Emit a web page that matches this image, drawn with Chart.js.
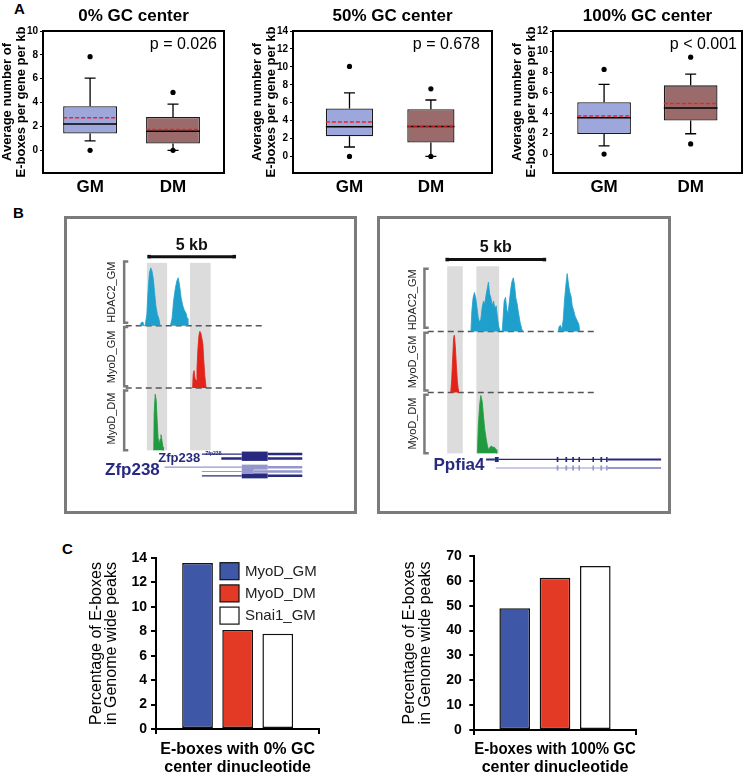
<!DOCTYPE html>
<html>
<head>
<meta charset="utf-8">
<script src="https://cdn.jsdelivr.net/npm/chart.js@4.4.1/dist/chart.umd.min.js"></script>
<style>
  body { margin: 0; background: #fff; overflow: hidden; }
  #fig { position: relative; width: 746px; height: 775px; font-family: "Liberation Sans", Arial, Helvetica, sans-serif; }
  #fig canvas { position: absolute; }
  .letter { position: absolute; font-weight: bold; font-size: 15px; line-height: 17px; }
  .frame { position: absolute; border: 3px solid #7b7b7b; box-sizing: border-box; }
</style>
</head>
<body>
<div id="fig">
  <div class="letter" style="left:14px;top:0px">A</div>
  <div class="letter" style="left:13px;top:204px">B</div>
  <div class="letter" style="left:62px;top:540px">C</div>

  <canvas id="box0" width="250" height="200" style="left:0;top:0"></canvas>
  <canvas id="box50" width="250" height="200" style="left:250px;top:0"></canvas>
  <canvas id="box100" width="246" height="200" style="left:500px;top:0"></canvas>

  <div class="frame" style="left:64px;top:216px;width:293px;height:298px"></div>
  <div class="frame" style="left:377px;top:216px;width:294px;height:298px"></div>
  <canvas id="trkZfp" width="287" height="292" style="left:67px;top:219px"></canvas>
  <canvas id="trkPpf" width="288" height="292" style="left:380px;top:219px"></canvas>

  <canvas id="pct0" width="290" height="240" style="left:60px;top:540px"></canvas>
  <canvas id="pct100" width="300" height="240" style="left:370px;top:540px"></canvas>
</div>

<script>
// ---------- A: box plots (E-boxes per gene per kb) ----------
const groups = ['GM', 'DM'];

const gc0Box = [[1.4, 3.7], [0.57, 2.8]];
const gc0Whisker = [[0.8, 6.05], [0, 3.87]];
const gc0Median = [2.2, 1.6];
const gc0Mean = [2.74, 1.75];
const gc0Outliers = [[0, 7.85], [0, 4.85]];

const gc50Box = [[2.25, 5.35], [1.55, 5.27]];
const gc50Whisker = [[1.05, 7.1], [0, 6.3]];
const gc50Median = [3.3, 3.35];
const gc50Mean = [3.85, 3.4];
const gc50Outliers = [[0, 10.05], [0, 7.55]];

const gc100Box = [[1.95, 5.05], [3.27, 6.7]];
const gc100Whisker = [[0.8, 6.8], [1.98, 7.8]];
const gc100Median = [3.55, 4.5];
const gc100Mean = [3.72, 4.93];
const gc100Outliers = [[0, 8.25], [0.99, 9.45]];

// ---------- B: ChIP-seq tracks, points are [kb, height as fraction of track] ----------
const trackNames = ['HDAC2_GM', 'MyoD_GM', 'MyoD_DM'];

const zfpHdac2 = [
  [[-0.55,0],[-0.46,0.05],[-0.36,0.06],[-0.30,0],[-0.23,0],[-0.13,0.18],[-0.06,0.55],[0.02,0.85],[0.10,0.93],
   [0.17,0.88],[0.25,0.75],[0.32,0.55],[0.40,0.32],[0.49,0.18],[0.59,0.10],[0.65,0]],
  [[1.25,0],[1.35,0.12],[1.44,0.4],[1.54,0.6],[1.63,0.72],[1.71,0.77],[1.79,0.65],[1.88,0.45],[1.98,0.32],
   [2.07,0.25],[2.17,0.2],[2.24,0.12],[2.28,0]]
];
const zfpMyoGM = [
  [[2.55,0],[2.59,0.22],[2.64,0.28],[2.70,0.15],[2.76,0.12],[2.81,0.3],[2.87,0.65],[2.93,0.85],[2.98,0.91],
   [3.04,0.88],[3.10,0.8],[3.16,0.7],[3.21,0.45],[3.27,0.2],[3.33,0.05],[3.35,0]]
];
const zfpMyoDM = [
  [[0.27,0],[0.30,0.6],[0.36,0.9],[0.42,0.8],[0.48,0.45],[0.53,0.2],[0.59,0.1],[0.65,0.18],[0.70,0.25],
   [0.76,0.15],[0.82,0.05],[0.84,0]]
];
const zfpBands = [[-0.13, 1.06], [2.40, 3.61]];

const ppfHdac2 = [
  [[1.22,0],[1.27,0.35],[1.33,0.55],[1.40,0.64],[1.47,0.55],[1.53,0.4],[1.60,0.22],[1.67,0.15],[1.73,0.2],
   [1.80,0.4],[1.87,0.5],[1.93,0.45],[2.00,0.6],[2.07,0.72],[2.12,0.81],[2.18,0.62],[2.25,0.55],[2.32,0.42],
   [2.38,0.5],[2.45,0.38],[2.52,0.42],[2.58,0.25],[2.65,0.08],[2.72,0]],
  [[2.83,0],[2.88,0.25],[2.93,0.5],[3.00,0.56],[3.07,0.35],[3.13,0.3],[3.20,0.5],[3.27,0.7],[3.33,0.82],
   [3.40,0.88],[3.47,0.75],[3.53,0.55],[3.60,0.45],[3.67,0.3],[3.75,0.15],[3.83,0.05],[3.88,0]],
  [[5.72,0],[5.75,0.08],[5.83,0.1],[5.90,0.03],[5.97,0.2],[6.03,0.5],[6.10,0.75],[6.17,0.95],[6.23,0.8],
   [6.30,0.65],[6.37,0.58],[6.43,0.42],[6.50,0.35],[6.58,0.25],[6.68,0.18],[6.77,0.12],[6.82,0]]
];
const ppfMyoGM = [
  [[0.18,0],[0.23,0.2],[0.28,0.55],[0.33,0.9],[0.37,0.94],[0.42,0.75],[0.47,0.45],[0.52,0.2],[0.57,0.05],[0.58,0]]
];
const ppfMyoDM = [
  [[1.55,0],[1.60,0.45],[1.67,0.8],[1.73,0.95],[1.80,0.85],[1.87,0.6],[1.93,0.4],[2.00,0.25],[2.07,0.12],
   [2.13,0.06],[2.20,0.1],[2.27,0.12],[2.35,0.1],[2.43,0.1],[2.52,0.06],[2.55,0]]
];
const ppfBands = [[0, 0.8], [1.5, 2.67]];

// gene models (kb): intron line, coding exons, UTR blocks
const zfpGenes = [
  { lane: 0, tone: 'dark', intron: [3.10, 5.44], exons: [[5.44, 6.96]], utr: [[6.96, 8.99]] },
  { lane: 1, tone: 'dark', intron: null, exons: [[5.44, 6.96]], utr: [[4.24, 5.44], [6.96, 8.99]] },
  { lane: 2, tone: 'light', intron: [0.91, 5.44], exons: [[5.44, 6.96]], utr: [[6.96, 8.99]] },
  { lane: 3, tone: 'light', intron: [3.10, 5.44], exons: [[5.44, 6.14]], utr: [[6.14, 8.99]] },
  { lane: 4, tone: 'dark', intron: [3.10, 5.44], exons: [[5.44, 6.96]], utr: [[6.96, 8.99]] }
];
const ppfExons = [[5.63, 5.72], [6.08, 6.17], [6.43, 6.52], [6.75, 6.83], [7.47, 7.55], [7.88, 7.97], [8.17, 8.25]];
const ppfGenes = [
  { lane: 0, tone: 'dark', intron: [2.65, 8.25], exons: [[2.45, 2.65]].concat(ppfExons), utr: [[2.0, 2.45], [8.25, 11.0]] },
  { lane: 1, tone: 'light', intron: [2.5, 8.25], exons: ppfExons, utr: [[8.25, 11.0]] }
];

// ---------- C: % of E-boxes in genome wide peaks ----------
const cSeries = ['MyoD_GM', 'MyoD_DM', 'Snai1_GM'];
const gc0Pct = [13.6, 8.1, 7.8];
const gc100Pct = [49, 61.3, 66];

// ---------- styles ----------
const FONT = '"Liberation Sans", Arial, Helvetica, sans-serif';
const boxFill = ['#9ea7db', '#9b6b6b'];
const peakColors = ['#1fa0cc', '#e2231a', '#1f9a3e'];
const cColors = ['#3f57a7', '#e33a25', '#ffffff'];
const NAVY = '#272a7f';
const NAVY_LIGHT = '#9496cc';

Chart.defaults.font.family = FONT;
Chart.defaults.color = '#000';
Chart.defaults.animation = false;

// whiskers, median, mean, frame, title and p value for the box plots
const boxExtras = {
  id: 'boxExtras',
  afterDatasetsDraw(chart, args, o) {
    const ctx = chart.ctx, ys = chart.scales.y, area = chart.chartArea;
    const bars = chart.getDatasetMeta(0).data;
    const boxes = chart.data.datasets[0].data;
    ctx.save();
    bars.forEach((bar, i) => {
      const x = bar.x, hw = bar.width / 2, cap = 5.5;
      const lo = ys.getPixelForValue(o.whisker[i][0]);
      const hi = ys.getPixelForValue(o.whisker[i][1]);
      const q1 = ys.getPixelForValue(boxes[i].y[0]);
      const q3 = ys.getPixelForValue(boxes[i].y[1]);
      ctx.strokeStyle = '#000';
      ctx.lineWidth = 1.3;
      ctx.beginPath();
      ctx.moveTo(x, q3); ctx.lineTo(x, hi);
      ctx.moveTo(x - cap, hi); ctx.lineTo(x + cap, hi);
      ctx.moveTo(x, q1); ctx.lineTo(x, lo);
      ctx.moveTo(x - cap, lo); ctx.lineTo(x + cap, lo);
      ctx.stroke();
      const md = ys.getPixelForValue(o.median[i]);
      ctx.lineWidth = 1.5;
      ctx.beginPath(); ctx.moveTo(x - hw, md); ctx.lineTo(x + hw, md); ctx.stroke();
      const mn = ys.getPixelForValue(o.mean[i]);
      ctx.strokeStyle = '#f0202a';
      ctx.setLineDash([4, 2]);
      ctx.beginPath(); ctx.moveTo(x - hw, mn); ctx.lineTo(x + hw, mn); ctx.stroke();
      ctx.setLineDash([]);
    });
    ctx.strokeStyle = '#000';
    ctx.lineWidth = 2;
    ctx.strokeRect(area.left, area.top, area.right - area.left, area.bottom - area.top);
    ctx.fillStyle = '#000';
    ctx.font = 'bold 17px ' + FONT;
    ctx.textAlign = 'center';
    ctx.textBaseline = 'middle';
    ctx.fillText(o.title, (area.left + area.right) / 2, 16);
    ctx.font = '16px ' + FONT;
    ctx.textAlign = 'right';
    ctx.fillText(o.p, area.right - o.pGap, 44.5);
    ctx.restore();
  }
};

function boxChart(id, o) {
  const outPts = [];
  o.outliers.forEach((arr, i) => arr.forEach(v => outPts.push({ x: i, y: v })));
  return new Chart(document.getElementById(id), {
    type: 'bar',
    data: {
      datasets: [
        {
          data: o.box.map((b, i) => ({ x: i, y: b })),
          backgroundColor: boxFill,
          borderColor: '#1a1a1a',
          borderWidth: 1.3,
          borderSkipped: false,
          categoryPercentage: 1,
          barPercentage: o.barPct,
          order: 2
        },
        { type: 'scatter', data: outPts, pointRadius: 2.6, backgroundColor: '#000', borderWidth: 0, order: 1 }
      ]
    },
    options: {
      responsive: false,
      layout: { padding: { top: 31, right: o.padRight, left: 0, bottom: 0 } },
      plugins: {
        legend: { display: false },
        tooltip: { enabled: false },
        boxExtras: { whisker: o.whisker, median: o.median, mean: o.mean, title: o.title, p: o.p, pGap: o.pGap }
      },
      scales: {
        x: {
          type: 'linear', min: o.xRange[0], max: o.xRange[1], offset: false,
          grid: { display: false, drawTicks: false, offset: false },
          border: { display: false },
          ticks: { autoSkip: false, padding: 4, font: { size: 17, weight: 'bold' }, callback: v => groups[Math.round(v)] },
          afterBuildTicks: s => { s.ticks = groups.map((g, i) => ({ value: i })); },
          afterFit: s => { s.height = 27; }
        },
        y: {
          min: o.yRange[0], max: o.yRange[1],
          grid: { drawOnChartArea: false, tickLength: 3, color: '#000' },
          border: { display: false },
          ticks: { stepSize: 2, padding: 2, font: { size: 10, weight: 'bold' } },
          afterBuildTicks: s => { s.ticks = s.ticks.filter(t => t.value >= 0 && Math.abs(t.value % 2) < 1e-9); },
          title: {
            display: true,
            text: ['Average number of', 'E-boxes per gene per kb'],
            font: { size: 13, weight: 'bold', lineHeight: 1.05 },
            padding: { top: o.titlePad, bottom: 0 }
          },
          afterFit: s => { s.width = o.axisW; }
        }
      }
    },
    plugins: [boxExtras]
  });
}

boxChart('box0', {
  box: gc0Box, whisker: gc0Whisker, median: gc0Median, mean: gc0Mean, outliers: gc0Outliers,
  title: '0% GC center', p: 'p = 0.026', pGap: 7,
  yRange: [-1.9, 10], xRange: [-0.568, 1.615], barPct: 0.65, axisW: 43, padRight: 26, titlePad: 1
});
boxChart('box50', {
  box: gc50Box, whisker: gc50Whisker, median: gc50Median, mean: gc50Mean, outliers: gc50Outliers,
  title: '50% GC center', p: 'p = 0.678', pGap: 12,
  yRange: [-1.85, 14], xRange: [-0.694, 1.751], barPct: 0.58, axisW: 43, padRight: 8, titlePad: 1
});
boxChart('box100', {
  box: gc100Box, whisker: gc100Whisker, median: gc100Median, mean: gc100Mean, outliers: gc100Outliers,
  title: '100% GC center', p: 'p < 0.001', pGap: 5,
  yRange: [-1.85, 12], xRange: [-0.59, 1.593], barPct: 0.62, axisW: 53, padRight: 2, titlePad: 11
});

// ---------- B ----------
const trackBase = [2, 1, 0];

const trackDecor = {
  id: 'trackDecor',
  beforeDatasetsDraw(chart, args, o) {
    const { ctx, scales: { x, y } } = chart;
    ctx.save();
    ctx.fillStyle = '#dcdcdc';
    o.bands.forEach(b => {
      const x0 = x.getPixelForValue(b[0]), x1 = x.getPixelForValue(b[1]);
      const y0 = y.getPixelForValue(o.bandY[1]), y1 = y.getPixelForValue(o.bandY[0]);
      ctx.fillRect(x0, y0, x1 - x0, y1 - y0);
    });
    ctx.restore();
  },
  afterDatasetsDraw(chart, args, o) {
    const { ctx, scales: { x, y } } = chart;
    ctx.save();
    // brackets
    ctx.strokeStyle = '#7a7a7a';
    ctx.lineWidth = 2.5;
    const bx = x.getPixelForValue(o.bracketX), bt = x.getPixelForValue(o.bracketX + o.bracketTick);
    o.brackets.forEach(r => {
      const yl = y.getPixelForValue(r[0]), yh = y.getPixelForValue(r[1]);
      ctx.beginPath();
      ctx.moveTo(bt, yh); ctx.lineTo(bx, yh); ctx.lineTo(bx, yl); ctx.lineTo(bt, yl);
      ctx.stroke();
    });
    // track names
    ctx.fillStyle = '#222';
    ctx.font = '11px ' + FONT;
    ctx.textAlign = 'center';
    ctx.textBaseline = 'middle';
    trackNames.forEach((n, i) => {
      ctx.save();
      ctx.translate(x.getPixelForValue(o.labelX), y.getPixelForValue(o.labelY[i]));
      ctx.rotate(-Math.PI / 2);
      ctx.fillText(n, 0, 0);
      ctx.restore();
    });
    // scale bar text
    ctx.fillStyle = '#111';
    ctx.font = 'bold 16px ' + FONT;
    ctx.fillText('5 kb', x.getPixelForValue((o.scaleBar[0] + o.scaleBar[1]) / 2), y.getPixelForValue(o.scaleTextY));
    // gene names
    ctx.fillStyle = NAVY;
    o.geneText.forEach(g => {
      ctx.font = 'bold ' + g.size + 'px ' + FONT;
      ctx.textAlign = g.align || 'right';
      ctx.fillText(g.t, x.getPixelForValue(g.x), y.getPixelForValue(g.y));
    });
    ctx.restore();
  }
};

function spanLine(spans, y) {
  const pts = [];
  spans.forEach(s => { pts.push({ x: s[0], y: y }, { x: s[1], y: y }, { x: s[1], y: null }); });
  return pts;
}

function trackChart(id, cfg) {
  const ds = [];
  cfg.tracks.forEach((clusters, i) => {
    clusters.forEach(pk => ds.push({
      data: pk.map(p => ({ x: p[0], y: trackBase[i] + p[1] })),
      borderColor: peakColors[i],
      backgroundColor: peakColors[i],
      borderWidth: 0.8,
      fill: { value: trackBase[i] }
    }));
  });
  [2, 1].forEach(b => ds.push({
    data: [{ x: cfg.dash[0], y: b }, { x: cfg.dash[1], y: b }],
    borderColor: '#555', borderWidth: 1.5, borderDash: [6, 4]
  }));
  ds.push({
    data: [{ x: cfg.scaleBar[0], y: cfg.barY }, { x: cfg.scaleBar[1], y: cfg.barY }],
    borderColor: '#111', borderWidth: 3,
    pointRadius: 2.5, pointStyle: 'rect', pointBackgroundColor: '#111', pointBorderWidth: 0
  });
  cfg.genes.forEach(g => {
    const y = cfg.laneY[g.lane];
    const col = g.tone === 'dark' ? NAVY : NAVY_LIGHT;
    if (g.intron) ds.push({ data: spanLine([g.intron], y), borderColor: col, borderWidth: 1.2 });
    ds.push({ data: spanLine(g.utr, y), borderColor: col, borderWidth: cfg.utrW });
    ds.push({ data: spanLine(g.exons, y), borderColor: col, borderWidth: cfg.exonW });
  });
  return new Chart(document.getElementById(id), {
    type: 'line',
    data: { datasets: ds },
    options: {
      responsive: false,
      layout: { padding: 0 },
      elements: { point: { radius: 0 }, line: { tension: 0 } },
      plugins: {
        legend: { display: false },
        tooltip: { enabled: false },
        trackDecor: cfg.decor
      },
      scales: {
        x: { type: 'linear', display: false, min: cfg.xRange[0], max: cfg.xRange[1] },
        y: { type: 'linear', display: false, min: cfg.yRange[0], max: cfg.yRange[1] }
      }
    },
    plugins: [trackDecor]
  });
}

trackChart('trkZfp', {
  tracks: [zfpHdac2, zfpMyoGM, zfpMyoDM],
  xRange: [-4.58, 11.79], yRange: [-0.91, 3.65],
  dash: [-1.37, 6.65], scaleBar: [0, 5], barY: 3.11,
  genes: zfpGenes, laneY: [-0.06, -0.13, -0.27, -0.34, -0.41], exonW: 5, utrW: 2.5,
  decor: {
    bands: zfpBands, bandY: [0, 3.01],
    bracketX: -1.46, bracketTick: 0.24, brackets: [[2.05, 3.03], [1.03, 1.98], [0, 0.96]],
    labelX: -2.17, labelY: [2.54, 1.5, 0.51],
    scaleBar: [0, 5], scaleTextY: 3.28,
    geneText: [
      { t: 'Zfp238', x: 0.63, y: -0.32, size: 17 },
      { t: 'Zfp238', x: 3.0, y: -0.125, size: 13 },
      { t: 'Zfp238', x: 3.3, y: -0.06, size: 5, align: 'left' }
    ]
  }
});

trackChart('trkPpf', {
  tracks: [ppfHdac2, ppfMyoGM, ppfMyoDM],
  xRange: [-3.25, 11.15], yRange: [-0.88, 3.78],
  dash: [-1.0, 7.67], scaleBar: [0, 5], barY: 3.18,
  genes: ppfGenes, laneY: [-0.10, -0.24], exonW: 5, utrW: 2,
  decor: {
    bands: ppfBands, bandY: [0, 3.07],
    bracketX: -1.17, bracketTick: 0.22, brackets: [[2.06, 3.03], [1.03, 1.98], [0, 0.96]],
    labelX: -1.75, labelY: [2.52, 1.5, 0.49],
    scaleBar: [0, 5], scaleTextY: 3.37,
    geneText: [{ t: 'Ppfia4', x: 1.92, y: -0.2, size: 17 }]
  }
});

// ---------- C ----------
const cLegend = {
  id: 'cLegend',
  afterDraw(chart, args, o) {
    if (!o.show) return;
    const ctx = chart.ctx;
    ctx.save();
    chart.data.datasets.forEach((ds, i) => {
      const y = o.y + i * o.gap;
      ctx.fillStyle = ds.backgroundColor;
      ctx.fillRect(o.x, y, 19, 17);
      ctx.strokeStyle = '#111';
      ctx.lineWidth = 1.2;
      ctx.strokeRect(o.x, y, 19, 17);
      ctx.fillStyle = '#222';
      ctx.font = '15px ' + FONT;
      ctx.textAlign = 'left';
      ctx.textBaseline = 'middle';
      ctx.fillText(ds.label, o.x + 25, y + 9);
    });
    ctx.restore();
  }
};

function pctChart(id, o) {
  return new Chart(document.getElementById(id), {
    type: 'bar',
    data: {
      labels: [''],
      datasets: cSeries.map((s, i) => ({
        label: s,
        data: [o.values[i]],
        backgroundColor: cColors[i],
        borderColor: '#111',
        borderWidth: 1.5,
        borderSkipped: false,
        categoryPercentage: o.catPct,
        barPercentage: o.barPct
      }))
    },
    options: {
      responsive: false,
      layout: { padding: { top: o.padTop, right: o.padRight, left: 0, bottom: 0 } },
      plugins: {
        legend: { display: false },
        tooltip: { enabled: false },
        cLegend: o.legend
      },
      scales: {
        x: {
          grid: { display: true, drawOnChartArea: false, offset: true, tickLength: 5, color: '#000', lineWidth: 2 },
          border: { display: true, color: '#000', width: 2 },
          ticks: { display: false },
          title: {
            display: true, text: o.xTitle,
            font: { size: 16, weight: 'bold', lineHeight: 1.125 },
            padding: { top: 0, bottom: 3 }
          },
          afterFit: s => { s.height = o.xH; }
        },
        y: {
          min: 0, max: o.max,
          grid: { drawOnChartArea: false, tickLength: 5, color: '#000', lineWidth: 2 },
          border: { display: true, color: '#000', width: 2 },
          ticks: { stepSize: o.step, padding: o.tickPad, font: { size: 14, weight: 'bold' } },
          title: {
            display: true,
            text: ['Percentage of E-boxes', 'in Genome wide peaks'],
            font: { size: 16, lineHeight: 0.95 },
            padding: { top: o.titlePad, bottom: 0 }
          },
          afterFit: s => { s.width = o.yW; }
        }
      }
    },
    plugins: [cLegend]
  });
}

pctChart('pct0', {
  values: gc0Pct, max: 14, step: 2,
  xTitle: ['E-boxes with 0% GC', 'center dinucleotide'],
  catPct: 0.737, barPct: 0.766, padTop: 18, padRight: 30.7, xH: 51, yW: 96, tickPad: 4, titlePad: 29,
  legend: { show: true, x: 160, y: 22.7, gap: 22.2 }
});
pctChart('pct100', {
  values: gc100Pct, max: 70, step: 10,
  xTitle: ['E-boxes with 100% GC', 'center dinucleotide'],
  catPct: 0.749, barPct: 0.76, padTop: 10, padRight: 34.3, xH: 50, yW: 104.3, tickPad: 7.6, titlePad: 32.4,
  legend: { show: false }
});
</script>
</body>
</html>
